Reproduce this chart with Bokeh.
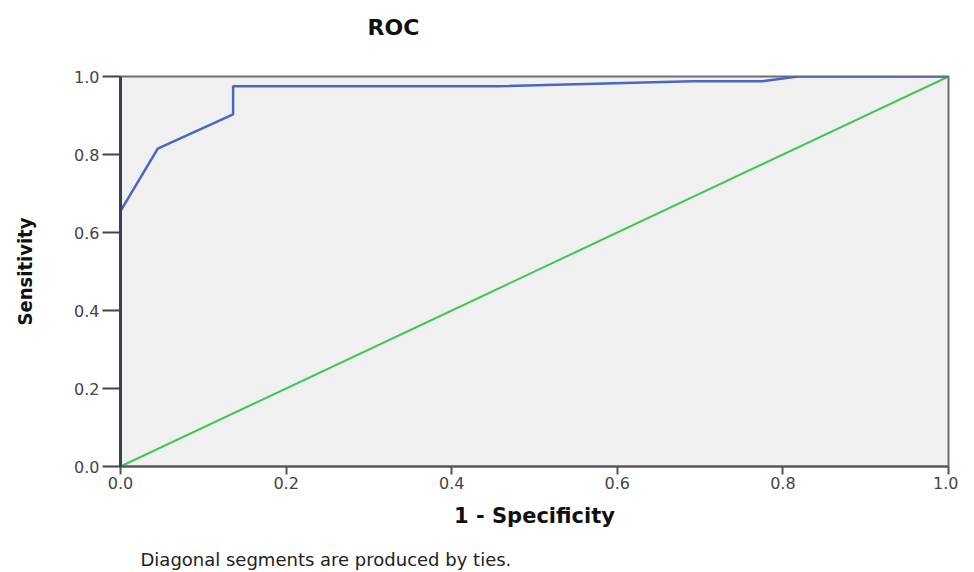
from bokeh.plotting import figure
from bokeh.models import FixedTicker, PrintfTickFormatter, Title, Range1d
from bokeh.embed import file_html
from bokeh.resources import INLINE

# ROC curve values (1 - specificity, sensitivity)
fpr = [0.0, 0.0, 0.045, 0.136, 0.136, 0.455, 0.69, 0.775, 0.818, 1.0]
tpr = [0.0, 0.655, 0.815, 0.903, 0.975, 0.975, 0.988, 0.988, 1.0, 1.0]
# reference diagonal
ref_x = [0.0, 1.0]
ref_y = [0.0, 1.0]
ticks = [0.0, 0.2, 0.4, 0.6, 0.8, 1.0]
title_text = "ROC"
note_text = "Diagonal segments are produced by ties."

p = figure(width=958, height=570, output_backend="svg", toolbar_location=None,
           x_range=Range1d(0, 1), y_range=Range1d(0, 1),
           min_border_left=120, min_border_top=76, min_border_right=10, min_border_bottom=104)

p.background_fill_color = "#f0f0f0"
p.border_fill_color = "white"
p.outline_line_color = "#6e6e6e"
p.outline_line_width = 2
p.grid.visible = False

p.line(ref_x, ref_y, line_color="#3ec653", line_width=2)
p.line(fpr, tpr, line_color="#4a66c4", line_width=2.5)

for ax in (p.xaxis[0], p.yaxis[0]):
    ax.ticker = FixedTicker(ticks=ticks)
    ax.formatter = PrintfTickFormatter(format="%.1f")
    ax.minor_tick_line_color = None
    ax.major_tick_in = 0
    ax.major_label_text_font = "DejaVu Sans"
    ax.major_label_text_font_size = "16px"
    ax.major_label_text_color = "#444444"
    ax.major_tick_line_width = 2
    ax.axis_line_width = 2

p.xaxis.major_tick_out = 8
p.xaxis.major_tick_line_color = "#555555"
p.xaxis.axis_line_color = "#555555"
p.xaxis.major_label_standoff = 2
p.xaxis.axis_label = "1 - Specificity"
p.xaxis.axis_label_text_font = "DejaVu Sans"
p.xaxis.axis_label_text_font_style = "bold"
p.xaxis.axis_label_text_font_size = "21px"
p.xaxis.axis_label_text_color = "#111111"
p.xaxis.axis_label_standoff = 12

p.yaxis.major_tick_out = 18
p.yaxis.major_tick_line_color = "#444444"
p.yaxis.axis_line_color = "#3a3f5a"
p.yaxis.axis_line_width = 3
p.yaxis.major_label_standoff = 3
p.yaxis.axis_label = "Sensitivity"
p.yaxis.axis_label_text_font = "'DejaVu Sans Condensed', 'Liberation Sans Narrow', sans-serif"
p.yaxis.axis_label_text_font_style = "bold"
p.yaxis.axis_label_text_font_size = "20px"
p.yaxis.axis_label_text_color = "#111111"
p.yaxis.axis_label_standoff = 34

p.title.text = ""

# spacer nearest the frame, then the chart title above it
top_gap = Title(text=" ", text_font="DejaVu Sans", text_font_size="22px", standoff=10)
roc_title = Title(text=title_text, align="left", offset=247, standoff=0,
                  text_font="DejaVu Sans", text_font_style="bold", text_font_size="22px",
                  text_color="#111111")
p.add_layout(top_gap, "above")
p.add_layout(roc_title, "above")

# spacer below the x axis, then the footnote
bottom_gap = Title(text=" ", text_font="DejaVu Sans", text_font_size="12px", standoff=0)
foot = Title(text=note_text, align="left", offset=20, standoff=0,
             text_font="DejaVu Sans", text_font_style="normal", text_font_size="18px",
             text_color="#222222")
p.add_layout(bottom_gap, "below")
p.add_layout(foot, "below")

open("out.html", "w").write(file_html(p, INLINE))
